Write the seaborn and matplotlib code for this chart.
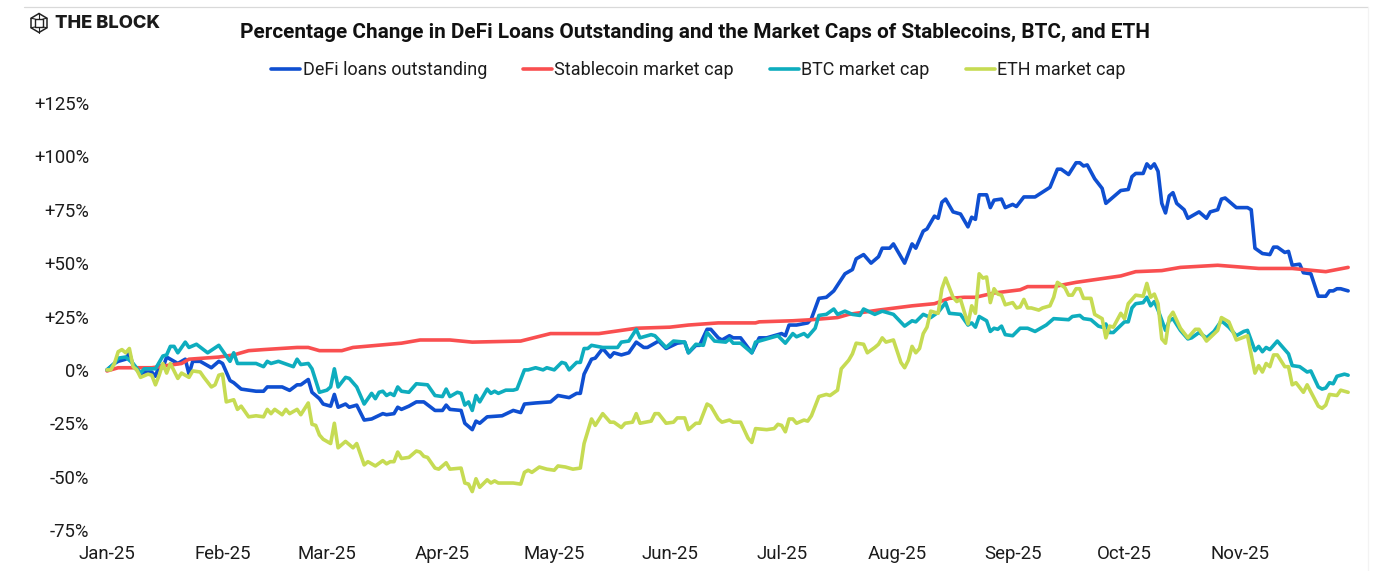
import pandas as pd
import matplotlib.pyplot as plt
import matplotlib.dates as mdates
from matplotlib.lines import Line2D
import seaborn as sns

# Values: day number since 1 Jan 2025 and % change
defi_days = [0, 2, 3, 5, 6, 7, 9, 10, 12, 13, 14, 15, 16, 19, 21, 22, 23, 25, 28, 30, 31, 33, 34, 36, 40, 42, 43, 45, 47, 49,
             51, 52, 54, 55, 57, 58, 60, 61, 62, 64, 65, 67, 69, 71, 74, 75, 77, 78, 79, 81, 83, 85, 88, 90, 91, 92, 95, 96, 98, 99,
             100, 102, 106, 109, 111, 112, 115, 119, 121, 124, 126, 127, 128, 130, 131, 133, 135, 136, 138, 140, 142, 144, 145, 148, 150, 153, 155, 156, 158, 159,
             161, 162, 164, 165, 167, 168, 170, 173, 175, 177, 181, 182, 183, 185, 188, 189, 191, 193, 195, 198, 200, 201, 203, 205, 207, 208, 210, 211, 214, 216,
             217, 219, 220, 222, 223, 224, 225, 227, 229, 231, 232, 233, 234, 236, 237, 238, 240, 241, 243, 244, 246, 249, 253, 255, 256, 258, 260, 261, 262, 263,
             265, 267, 268, 270, 272, 274, 275, 276, 278, 279, 280, 281, 282, 283, 284, 285, 286, 287, 289, 290, 293, 295, 296, 298, 299, 300, 303, 306, 307, 308,
             310, 312, 313, 314, 316, 317, 318, 320, 321, 323, 325, 327, 328, 329, 330, 331, 333]
defi_vals = [0, 3, 4, 5, 8, 2, -2, -1, -1, -3, 2, 1, 6, 3, 5, -2, 4, 4, 1, 4, 3, -5, -6, -9, -10, -10, -8, -8, -8, -9.6,
             -7, -7, -4.5, -10.5, -13.5, -16, -17, -11.5, -17.5, -16, -17.5, -16.5, -23.5, -23, -20.5, -21, -20.5, -17.5, -18.5, -17, -15, -15, -19, -19, -16.5, -18.5, -19, -25, -28, -24,
             -25, -22, -21.5, -19, -20, -16, -15.5, -15, -12, -13, -11, -11, -2, 5, 5.5, 10, 6, 8, 7, 8, 13, 10.5, 10.5, 13.5, 10, 12.5, 13, 8, 11.5, 11.5,
             19, 19, 15, 14, 16, 15, 15, 8, 15, 15, 17, 16, 21, 21, 22, 24, 33.5, 34, 37, 45, 47, 52, 54, 50, 53, 57, 57, 59, 50, 59,
             57, 65, 66, 72, 71, 78.5, 80, 74, 73, 67, 71.5, 70.5, 82, 82, 76, 79.5, 80, 76, 77.5, 76.5, 81, 81, 85.5, 94, 94, 91.5, 97, 97, 95.5, 96,
             89.5, 85, 78, 81, 84, 84.5, 90.5, 92, 92, 96.5, 94.5, 96.5, 93, 78, 73.5, 81.5, 83, 78, 75, 71, 74, 71, 74, 75, 80, 80.5, 76, 76, 75, 57,
             54.5, 54, 57.5, 57.5, 55, 55.5, 49, 49.5, 45.5, 45, 34.5, 34.5, 37, 37, 38, 38, 37]

stable_days = [0, 3, 12, 16, 20, 22, 30, 34, 38, 42, 51, 54, 57, 63, 66, 79, 84, 92, 98, 111, 119, 127, 132, 138, 142, 151, 156, 164, 174, 175,
               184, 189, 196, 199, 207, 216, 222, 226, 230, 233, 238, 245, 247, 254, 260, 272, 276, 283, 288, 298, 309, 318, 327, 333]
stable_vals = [-0.5, 1, 1, 2, 3, 5, 6, 7, 9, 9.5, 10.5, 10.5, 9, 9, 10.5, 12.5, 14, 14, 13, 13.5, 17, 17, 17, 18.5, 19.5, 20, 21, 22, 22, 22.5,
               23, 23.5, 24.5, 26, 28, 30, 31, 33.5, 34, 34, 36, 37.5, 39, 39, 41, 44, 46, 46.5, 48, 49, 47.5, 47.5, 46, 48]

btc_days = [0, 2, 3, 5, 7, 9, 10, 12, 13, 15, 16, 17, 18, 19, 21, 22, 24, 27, 30, 33, 34, 35, 40, 42, 43, 44, 46, 50, 51, 52,
            54, 55, 56, 57, 59, 60, 61, 62, 64, 65, 67, 69, 71, 72, 73, 74, 75, 76, 77, 78, 79, 81, 83, 86, 88, 90, 91, 92, 94, 95,
            96, 97, 98, 99, 100, 102, 103, 104, 105, 107, 109, 110, 112, 113, 115, 117, 118, 120, 122, 123, 124, 126, 127, 128, 129, 130, 133, 137, 138, 140,
            142, 143, 146, 147, 150, 152, 155, 156, 158, 160, 161, 163, 166, 167, 168, 170, 173, 174, 178, 180, 182, 184, 185, 187, 188, 190, 191, 193, 195, 196,
            198, 200, 202, 203, 206, 208, 211, 214, 216, 217, 219, 221, 223, 225, 226, 229, 231, 232, 233, 234, 236, 237, 238, 239, 240, 241, 243, 245, 247, 249,
            252, 254, 258, 259, 261, 262, 264, 266, 267, 268, 269, 270, 273, 274, 275, 276, 278, 279, 280, 281, 282, 284, 285, 286, 288, 290, 291, 293, 295, 297,
            299, 301, 303, 305, 306, 308, 309, 310, 311, 312, 314, 317, 318, 320, 322, 323, 325, 326, 327, 328, 329, 330, 332, 333]
btc_vals = [0, 3, 5.5, 6, 3, -1.5, 0.5, 0.5, 0.5, 6.5, 7, 11, 11, 8, 13, 10.5, 12, 8, 11.5, 4, 8, 3, 3, 1.5, 4, 3, 4, 1.5, 5, 2.5,
            3, 0.5, -5, -10.5, -9.5, -8, 0.5, -8, -3.5, -4, -8, -16, -11, -13.5, -10.5, -10, -12, -11, -12, -8, -10, -10.5, -6.5, -7, -12, -12.5, -9, -12.5, -10.5, -11,
            -16.5, -15, -19, -12, -15, -9, -11, -10, -11, -9.5, -9.5, -9, 0, 0, 1, 0, 1, 0, 3.5, 3, 0, 3.5, 3.5, 10, 10, 11.5, 10.5, 10.5, 13, 13.5,
            19, 15, 16.5, 16, 10.5, 13.5, 13, 8, 12, 11.5, 17.5, 13.5, 13, 14.5, 12.5, 12.5, 8, 13, 15, 16, 12.5, 17, 15.5, 17, 15.5, 19.5, 25.5, 26, 28.5, 26,
            27.5, 26, 25.5, 28.5, 26, 27.5, 26, 20.5, 23, 22.5, 26, 24.5, 27, 31.5, 26.5, 26, 21, 22, 20, 25, 23, 18, 19.5, 19, 20.5, 16.5, 16, 19.5, 19.5, 18,
            21, 24, 23.5, 25, 25.5, 24, 23.5, 20.5, 20, 21.5, 17.5, 17.5, 22.5, 22.5, 29, 31, 31.5, 34, 30, 32, 28, 18.5, 23, 24, 18.5, 14.5, 15, 17.5, 15, 18,
            23, 20, 16, 18, 18.5, 9, 11, 8.5, 10.5, 9.5, 13.5, 7.5, 2, 1.5, -1, -0.5, -8, -9, -8.5, -6, -6.5, -3, -2, -2.5]

eth_days = [0, 1, 2, 3, 4, 5, 6, 7, 8, 9, 11, 12, 13, 14, 15, 16, 17, 19, 20, 22, 23, 25, 26, 28, 29, 30, 31, 32, 34, 35,
            36, 38, 40, 42, 43, 44, 45, 47, 48, 49, 51, 52, 54, 55, 56, 57, 58, 60, 61, 62, 64, 66, 67, 69, 70, 72, 74, 75, 76, 77,
            78, 79, 81, 83, 84, 85, 86, 88, 89, 91, 92, 95, 96, 97, 98, 99, 100, 102, 103, 104, 105, 109, 111, 112, 113, 114, 116, 118, 120, 121,
            123, 125, 127, 128, 130, 131, 133, 135, 136, 138, 139, 141, 142, 143, 146, 147, 148, 150, 152, 153, 155, 156, 158, 159, 161, 162, 164, 165, 167, 168,
            170, 172, 173, 174, 177, 179, 180, 181, 182, 183, 184, 185, 187, 188, 189, 191, 193, 194, 196, 197, 199, 200, 201, 203, 204, 206, 207, 208, 209, 211,
            213, 214, 215, 216, 217, 218, 219, 220, 221, 223, 224, 225, 227, 228, 229, 231, 232, 233, 234, 235, 236, 237, 238, 239, 240, 241, 243, 244, 245, 246,
            247, 248, 250, 251, 253, 254, 255, 257, 258, 259, 260, 261, 262, 264, 265, 267, 268, 269, 270, 272, 273, 274, 276, 278, 279, 280, 281, 282, 283, 284,
            285, 286, 288, 290, 292, 293, 295, 298, 299, 301, 303, 306, 308, 309, 310, 311, 312, 313, 314, 316, 317, 318, 319, 321, 322, 325, 326, 327, 328, 330,
            331, 332, 333]
eth_vals = [0, 0, 3, 8.5, 9.5, 8, 10, 1.5, 0, -3.5, -2, -2.5, -7, -2.5, 3, -1.5, 3, -4, -1.5, -3.5, -0.5, -1, -3.5, -8, -7, -2.5, -2, -15, -14, -18.5,
            -17, -22, -21.5, -22, -18.5, -20.5, -18.5, -21, -18.5, -20.5, -18.5, -21, -15.5, -25.5, -26, -30.5, -32.5, -34.5, -25, -36.5, -33.5, -36.5, -34.5, -44.5, -43, -45, -42.5, -44, -43, -43,
            -38.5, -41.5, -41, -38, -38.5, -40.5, -41, -46, -46.5, -43.5, -46.5, -46, -53, -53.5, -57, -51, -55, -51.5, -53, -52, -53, -53, -53.5, -48, -47, -48, -45.5, -46.5, -47, -45,
            -45.5, -46.5, -46, -34.5, -23, -26, -20.5, -24.5, -24.5, -27, -25, -24.5, -20.5, -25, -24, -20.5, -20.5, -25, -24.5, -22.5, -22.5, -28, -25, -25, -16, -17, -23, -24.5, -23.5, -24.5,
            -24.5, -32, -34, -27.5, -28, -27.5, -25.5, -26, -29, -23, -23, -25, -23.5, -24, -21.5, -12.5, -11.5, -12, -9.5, 0.5, 4.5, 7.5, 12.5, 12, 8, 10.5, 12, 15, 13, 14,
            3.5, 1, 4.5, 11, 8, 10, 17, 20, 27.5, 26.5, 38, 43, 34, 32, 33, 21.5, 30, 26.5, 45, 43, 43.5, 31.5, 38, 35.5, 35, 30.5, 31.5, 29, 29.5, 33,
            29, 29, 28, 29, 30, 34, 41, 38.5, 35, 35, 38, 38, 33.5, 33.5, 26, 24, 15, 20.5, 20, 26.5, 24, 31, 35, 34.5, 40.5, 34, 35.5, 31, 14.5, 12.5,
            24.5, 27, 19.5, 15, 19, 19, 13.5, 18.5, 24.5, 22.5, 14, 16, -1.5, 2, -1, 3, 1.5, 7, 7, 1.5, 1.5, -7, -6, -10.5, -7, -17, -18, -16.5, -11.5, -12,
            -9.5, -10, -10.5]

y_ticks = [-75, -50, -25, 0, 25, 50, 75, 100, 125]
y_labels = ['-75%', '-50%', '-25%', '0%', '+25%', '+50%', '+75%', '+100%', '+125%']
month_labels = ['Jan-25', 'Feb-25', 'Mar-25', 'Apr-25', 'May-25', 'Jun-25', 'Jul-25', 'Aug-25', 'Sep-25', 'Oct-25', 'Nov-25']

start = pd.Timestamp('2025-01-01')
W, H = 1382, 571
TEXT = '#1c1c1c'
LW = 2.6


def to_dates(days):
    return start + pd.to_timedelta(days, unit='D')


def draw_logo(fig):
    # small hexagon cube next to the wordmark
    cx, cy, rx, ry = 39, 23, 8, 9.5
    xs = [cx, cx + rx, cx + rx, cx, cx - rx, cx - rx, cx]
    ys = [cy - ry, cy - ry / 2, cy + ry / 2, cy + ry, cy + ry / 2, cy - ry / 2, cy - ry]
    fig.add_artist(Line2D([x / W for x in xs], [1 - y / H for y in ys], color='#222222', lw=1.1))
    sq = 4
    fig.add_artist(Line2D([(cx + a) / W for a in (-sq, sq, sq, -sq, -sq)],
                          [1 - (cy + b) / H for b in (-sq, -sq, sq, sq, -sq)], color='#222222', lw=1.0))
    for i in range(0, 6, 1):
        fig.add_artist(Line2D([(cx + (sq if xs[i] > cx else -sq if xs[i] < cx else 0)) / W, xs[i] / W],
                              [1 - (cy + (sq if ys[i] > cy else -sq)) / H, 1 - ys[i] / H],
                              color='#222222', lw=0.8))
    fig.text(55 / W, 1 - 23 / H, 'THE BLOCK', family='Inter', weight='heavy', fontsize=13.2,
             color='#1a1a1a', va='center', ha='left')


def main():
    sns.set_theme(style='white')
    plt.rcParams['font.family'] = ['Roboto', 'DejaVu Sans']

    fig = plt.figure(figsize=(W / 100, H / 100), dpi=100)
    ax = fig.add_axes([107 / W, 1 - 530 / H, (1350 - 107) / W, (530 - 103) / H])

    sns.lineplot(x=to_dates(defi_days), y=defi_vals, ax=ax, color='#0F4FD1', lw=LW, label='DeFi loans outstanding', clip_on=False, zorder=2)
    sns.lineplot(x=to_dates(stable_days), y=stable_vals, ax=ax, color='#F94F50', lw=LW, label='Stablecoin market cap', clip_on=False, zorder=3)
    sns.lineplot(x=to_dates(btc_days), y=btc_vals, ax=ax, color='#0EADBE', lw=LW, label='BTC market cap', clip_on=False, zorder=4)
    sns.lineplot(x=to_dates(eth_days), y=eth_vals, ax=ax, color='#C6DB53', lw=LW, label='ETH market cap', clip_on=False, zorder=5)

    ax.set_xlim(start, start + pd.Timedelta(days=333.5))
    ax.set_ylim(-75, 125)
    ax.set_xlabel('')
    ax.set_ylabel('')
    ax.set_yticks(y_ticks)
    ax.set_yticklabels(y_labels, fontsize=13.3, color=TEXT)
    ax.set_xticks(pd.date_range('2025-01-01', periods=len(month_labels), freq='MS'))
    ax.xaxis.set_major_formatter(mdates.DateFormatter('%b-%y'))
    ax.tick_params(axis='x', labelsize=13.4, labelcolor=TEXT, length=0, pad=11)
    ax.tick_params(axis='y', length=0, pad=13)
    sns.despine(ax=ax, left=True, bottom=True)
    ax.grid(False)

    leg = ax.legend(loc='center', bbox_to_anchor=(698.5 / W, 1 - 70 / H), bbox_transform=fig.transFigure,
                    ncol=4, frameon=False, fontsize=13.0, handlelength=1.6, handletextpad=0.13,
                    columnspacing=2.0, labelcolor=TEXT)
    for line in leg.get_lines():
        line.set_linewidth(LW)

    fig.text(695.5 / W, 1 - 32 / H, 'Percentage Change in DeFi Loans Outstanding and the Market Caps of Stablecoins, BTC, and ETH',
             fontsize=14.95, weight='bold', color='#111111', ha='center', va='center')

    # faint frame line along the top and the right
    fig.add_artist(Line2D([24 / W, 1368 / W], [1 - 6.5 / H, 1 - 6.5 / H], color='#d9d9d9', lw=0.9))
    fig.add_artist(Line2D([1368 / W, 1368 / W], [1 - 6.5 / H, 0], color='#f3f3f3', lw=0.9))
    draw_logo(fig)

    fig.savefig('out.png', dpi=100)


if __name__ == '__main__':
    main()
